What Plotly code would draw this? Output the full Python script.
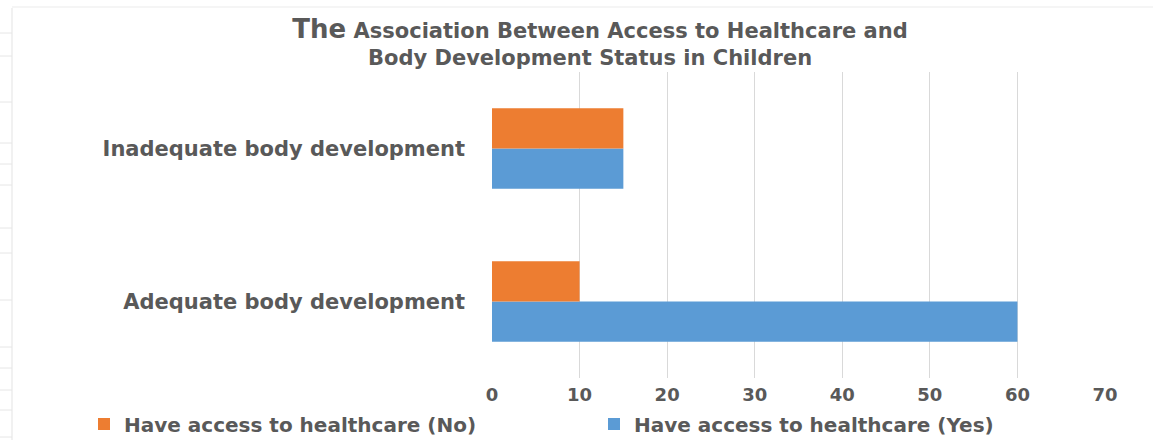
import plotly.graph_objects as go

categories = ["Adequate body development", "Inadequate body development"]
yes_values = [60, 15]
no_values = [10, 15]
series_names = ["Have access to healthcare (No)", "Have access to healthcare (Yes)"]
x_ticks = [0, 10, 20, 30, 40, 50, 60, 70]
title_line1 = "<span style='font-size:26px'>The</span> Association Between Access to Healthcare and"
title_line2 = "Body Development Status in Children"

TEXT = "#595959"
FONT = "DejaVu Sans"

fig = go.Figure()
fig.add_trace(go.Bar(
    y=categories, x=yes_values, orientation="h", name=f"<b>{series_names[1]}</b>",
    marker=dict(color="#5B9BD5", line=dict(width=0)), legendrank=2,
))
fig.add_trace(go.Bar(
    y=categories, x=no_values, orientation="h", name=f"<b>{series_names[0]}</b>",
    marker=dict(color="#ED7D31", line=dict(width=0)), legendrank=1,
))

W, H = 1153, 440
L, R, T, B = 492, 1153 - 1105, 72, 440 - 378

def px_x(px):
    return (px - L) / (W - L - R)

def px_y(py):
    return ((H - py) - B) / (H - T - B)

fig.update_layout(
    width=W, height=H,
    margin=dict(l=L, r=R, t=T, b=B, autoexpand=False),
    paper_bgcolor="white", plot_bgcolor="white",
    barmode="group", bargap=0.475, bargroupgap=0,
    font=dict(family=FONT, color=TEXT),
    title=dict(
        text=f"<b>{title_line1}</b>",
        x=600 / W, xref="container", xanchor="center",
        y=1 - 31 / H, yref="container", yanchor="middle",
        font=dict(family=FONT, size=21, color=TEXT),
        pad=dict(b=0, t=0, l=0, r=0),
    ),
    xaxis=dict(
        range=[0, 70], tickvals=x_ticks, ticktext=[f"<b>{v}</b>" for v in x_ticks],
        showgrid=True, gridcolor="#D9D9D9", gridwidth=1,
        zeroline=False, showline=False, ticks="",
        ticklabelstandoff=4,
        tickfont=dict(family=FONT, size=18, color=TEXT),
        fixedrange=True,
    ),
    yaxis=dict(
        categoryorder="array", categoryarray=categories,
        tickvals=categories, ticktext=[f"<b>{c}</b>" for c in categories],
        showgrid=False, zeroline=False, showline=False, ticks="",
        ticklabelstandoff=26,
        tickfont=dict(family=FONT, size=21, color=TEXT),
        fixedrange=True,
    ),
    legend=dict(
        orientation="h", xref="paper", yref="paper",
        x=px_x(84), xanchor="left", y=px_y(424), yanchor="middle",
        font=dict(family=FONT, size=20, color=TEXT),
        itemwidth=30, traceorder="normal",
        entrywidth=465, entrywidthmode="pixels",
    ),
    showlegend=True,
)

fig.add_annotation(
    text=f"<b>{title_line2}</b>", xref="paper", yref="paper",
    x=px_x(590), y=px_y(58), xanchor="center", yanchor="middle",
    showarrow=False, font=dict(family=FONT, size=21, color=TEXT),
    borderpad=0,
)

# faint spreadsheet-like border lines
fig.add_shape(type="line", xref="paper", yref="paper",
              x0=px_x(12), x1=px_x(12), y0=px_y(8), y1=px_y(440),
              line=dict(color="#E3E3E3", width=1))
fig.add_shape(type="line", xref="paper", yref="paper",
              x0=px_x(12), x1=px_x(1153), y0=px_y(7), y1=px_y(7),
              line=dict(color="#EBEBEB", width=1))
for ry in [33, 56, 102, 143, 164, 185, 228, 253, 300, 347, 368, 390, 410, 437]:
    fig.add_shape(type="line", xref="paper", yref="paper",
                  x0=px_x(0), x1=px_x(12), y0=px_y(ry), y1=px_y(ry),
                  line=dict(color="#E6E6E6", width=1))

fig.write_html("out.html", config={"displayModeBar": False},
               post_script="document.body.style.margin='0';")
